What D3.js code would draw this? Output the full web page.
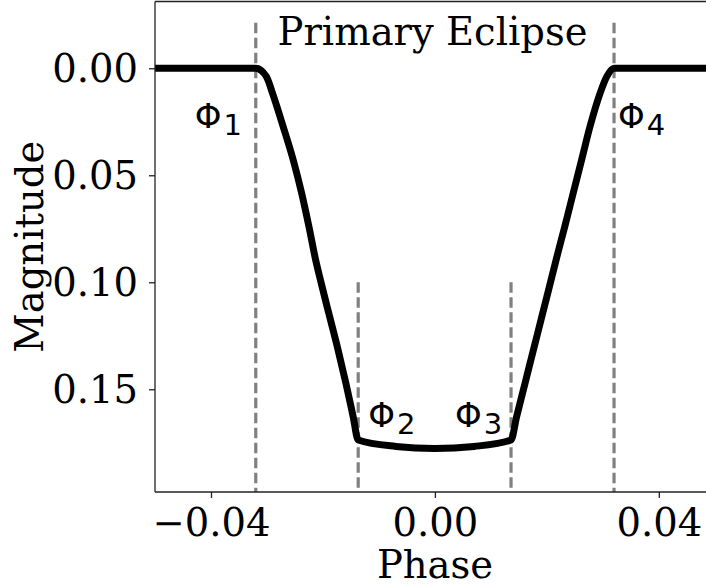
<!DOCTYPE html>
<html>
<head>
<meta charset="utf-8">
<script src="https://cdn.jsdelivr.net/npm/d3@7"></script>
<style>
  html, body { margin: 0; padding: 0; background: #fff; }
  svg { display: block; }
</style>
</head>
<body>
<svg id="chart" width="706" height="586"></svg>
<script>
// Light curve of the primary eclipse: phase vs. magnitude drop
const phase = [
  -0.0500, -0.0320, -0.0301, -0.0290, -0.0271, -0.0253, -0.0238, -0.0225,
  -0.0213, -0.0203, -0.0188, -0.0173, -0.0159, -0.0146, -0.0137,
  -0.0070, 0.0000, 0.0070,
  0.0136, 0.0146, 0.0161, 0.0176, 0.0191, 0.0206, 0.0218, 0.0232,
  0.0247, 0.0262, 0.0277, 0.0295, 0.0307, 0.0320, 0.0500
];
const magnitude = [
  0.0000, 0.0000, 0.0039, 0.0117, 0.0273, 0.0429, 0.0584, 0.0740,
  0.0896, 0.1005, 0.1161, 0.1316, 0.1472, 0.1628, 0.1737,
  0.1767, 0.1777, 0.1767,
  0.1737, 0.1628, 0.1472, 0.1316, 0.1161, 0.1005, 0.0880, 0.0740,
  0.0584, 0.0429, 0.0273, 0.0117, 0.0039, 0.0000, 0.0000
];

// Contact phases and the magnitude where each marker line starts
const contactNames = ["1", "2", "3", "4"];
const contactPhase = [-0.0320, -0.0137, 0.0136, 0.0320];
const contactTop = [-0.0213, 0.1000, 0.1000, -0.0213];

const xTicks = [-0.04, 0.00, 0.04];
const yTicks = [0.00, 0.05, 0.10, 0.15];
const xDomain = [-0.05, 0.05];
const yDomain = [-0.0312, 0.198];

const svg = d3.select("#chart");
const plot = { left: 155, top: 1.5, right: 714.8, bottom: 492 };

const x = d3.scaleLinear().domain(xDomain).range([plot.left, plot.right]);
const y = d3.scaleLinear().domain(yDomain).range([plot.top, plot.bottom]);

svg.append("defs").append("clipPath").attr("id", "plotClip")
  .append("rect")
  .attr("x", plot.left).attr("y", plot.top)
  .attr("width", plot.right - plot.left).attr("height", plot.bottom - plot.top);

const inner = svg.append("g").attr("clip-path", "url(#plotClip)");

// Dashed contact markers
inner.selectAll("line.contact")
  .data(contactPhase)
  .join("line")
  .attr("class", "contact")
  .attr("x1", d => x(d)).attr("x2", d => x(d))
  .attr("y1", (d, i) => y(contactTop[i]))
  .attr("y2", y(yDomain[1]))
  .attr("stroke", "#808080")
  .attr("stroke-width", 3.2)
  .attr("stroke-dasharray", "10.5,4.5");

// Light curve
const pts = phase.map((p, i) => [p, magnitude[i]]);
inner.append("path")
  .datum(pts)
  .attr("fill", "none")
  .attr("stroke", "#000")
  .attr("stroke-width", 7)
  .attr("stroke-linejoin", "round")
  .attr("d", d3.line().x(d => x(d[0])).y(d => y(d[1])).curve(d3.curveMonotoneX));

// Axes
const serif = "'DejaVu Serif', serif";
const fontPx = "38.5px";
const xAxis = svg.append("g")
  .attr("transform", `translate(0,${plot.bottom})`)
  .call(d3.axisBottom(x).tickValues(xTicks).tickSize(6).tickPadding(10)
        .tickFormat(d => d3.format(".2f")(d).replace("-", "\u2212")));
const yAxis = svg.append("g")
  .attr("transform", `translate(${plot.left},0)`)
  .call(d3.axisLeft(y).tickValues(yTicks).tickSize(6).tickPadding(11)
        .tickFormat(d3.format(".2f")));

[xAxis, yAxis].forEach(g => {
  g.select(".domain").remove();
  g.selectAll(".tick line").attr("stroke", "#222").attr("stroke-width", 1.3);
  g.selectAll(".tick text")
    .attr("fill", "#000")
    .style("font-family", serif)
    .style("font-size", fontPx);
});
xAxis.selectAll(".tick text").attr("dy", "0.72em");
yAxis.selectAll(".tick text").attr("dy", "0.35em");

// Spines: left, bottom, top
const spine = svg.append("g").attr("stroke", "#222").attr("stroke-width", 1.3).attr("fill", "none");
spine.append("line").attr("x1", plot.left).attr("x2", plot.left).attr("y1", plot.top).attr("y2", plot.bottom);
spine.append("line").attr("x1", plot.left).attr("x2", 706).attr("y1", plot.bottom).attr("y2", plot.bottom);
spine.append("line").attr("x1", plot.left).attr("x2", 706).attr("y1", plot.top).attr("y2", plot.top);

// Axis titles
svg.append("text")
  .attr("x", 435).attr("y", 578)
  .attr("text-anchor", "middle")
  .style("font-family", serif).style("font-size", fontPx)
  .text("Phase");
svg.append("text")
  .attr("transform", `translate(43,${(plot.top + plot.bottom) / 2}) rotate(-90)`)
  .attr("text-anchor", "middle")
  .style("font-family", serif).style("font-size", fontPx)
  .text("Magnitude");

// Panel title inside the axes
svg.append("text")
  .attr("x", 432.5).attr("y", 45)
  .attr("text-anchor", "middle")
  .style("font-family", serif).style("font-size", fontPx)
  .text("Primary Eclipse");

// Contact labels Φ1..Φ4
const labelPos = [
  { px: -0.0429, mag: 0.0279 },
  { px: -0.0119, mag: 0.1677 },
  { px: 0.0036, mag: 0.1677 },
  { px: 0.0327, mag: 0.0279 }
];
const sans = "'DejaVu Sans', sans-serif";
labelPos.forEach((p, i) => {
  const t = svg.append("text")
    .attr("x", x(p.px)).attr("y", y(p.mag))
    .style("font-family", sans).style("font-size", "34px");
  t.append("tspan").text("\u03A6");
  t.append("tspan").attr("dy", 7).attr("dx", 2).style("font-size", "29px").text(contactNames[i]);
});
</script>
</body>
</html>
